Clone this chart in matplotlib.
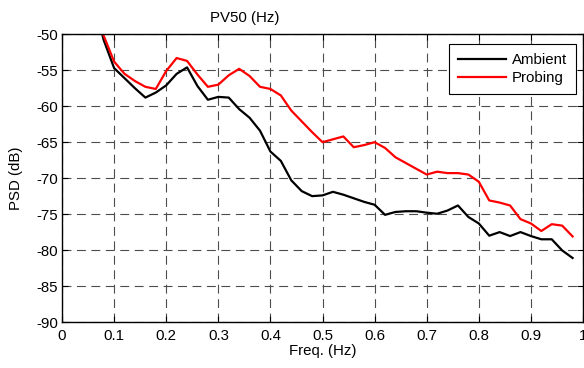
import matplotlib
matplotlib.use("Agg")
import matplotlib.pyplot as plt
import numpy as np

plt.rcParams['font.family'] = ['Liberation Sans', 'DejaVu Sans']
plt.rcParams['axes.unicode_minus'] = False

freq = [0.06, 0.08, 0.10, 0.12, 0.14, 0.16, 0.18, 0.20, 0.22, 0.24, 0.26, 0.28, 0.30,
        0.32, 0.34, 0.36, 0.38, 0.40, 0.42, 0.44, 0.46, 0.48, 0.50, 0.52, 0.54, 0.56,
        0.58, 0.60, 0.62, 0.64, 0.66, 0.68, 0.70, 0.72, 0.74, 0.76, 0.78, 0.80, 0.82,
        0.84, 0.86, 0.88, 0.90, 0.92, 0.94, 0.96, 0.98]

ambient = [-45.0, -50.8, -54.7, -56.1, -57.5, -58.8, -58.1, -57.1, -55.5, -54.6, -57.2,
           -59.1, -58.7, -58.8, -60.4, -61.6, -63.4, -66.3, -67.6, -70.3, -71.8, -72.5,
           -72.4, -71.9, -72.3, -72.8, -73.3, -73.7, -75.1, -74.7, -74.6, -74.6, -74.8,
           -74.95, -74.5, -73.8, -75.4, -76.3, -78.0, -77.5, -78.05, -77.5, -78.05,
           -78.5, -78.5, -80.05, -81.1]

probing = [-46.0, -50.2, -53.8, -55.5, -56.5, -57.3, -57.6, -55.1, -53.3, -53.7, -55.6,
           -57.3, -57.0, -55.7, -54.8, -55.8, -57.3, -57.6, -58.5, -60.6, -62.1, -63.6,
           -65.0, -64.6, -64.2, -65.7, -65.4, -65.0, -65.8, -67.1, -67.9, -68.7, -69.5,
           -69.1, -69.3, -69.3, -69.5, -70.5, -73.1, -73.4, -73.8, -75.7, -76.3, -77.35,
           -76.4, -76.6, -78.1]

xticks = [0, 0.1, 0.2, 0.3, 0.4, 0.5, 0.6, 0.7, 0.8, 0.9, 1]
xticklabels = ['0', '0.1', '0.2', '0.3', '0.4', '0.5', '0.6', '0.7', '0.8', '0.9', '1']
yticks = [-90, -85, -80, -75, -70, -65, -60, -55, -50]

FS = 10.8

fig = plt.figure(figsize=(5.84, 3.68), dpi=100)
ax = fig.add_axes([0.1062, 0.125, 0.8921, 0.7818])

ax.plot(freq, ambient, color='black', lw=1.6, label='Ambient')
ax.plot(freq, probing, color='#ff0000', lw=1.6, label='Probing')

ax.set_xlim(0, 1)
ax.set_ylim(-90, -50)
ax.set_xticks(xticks)
ax.set_xticklabels(xticklabels)
ax.set_yticks(yticks)

ax.grid(True, color='#4d4d4d', linestyle=(0, (8, 5)), linewidth=0.8)
ax.set_axisbelow(True)

ax.tick_params(direction='in', top=True, right=True, length=4, width=0.8,
               labelsize=FS)
ax.tick_params(axis='y', pad=3)
ax.tick_params(axis='x', pad=5)
for s in ax.spines.values():
    s.set_linewidth(1.0)

ax.set_xlabel('Freq. (Hz)', fontsize=FS, labelpad=1)
ax.set_ylabel('PSD (dB)', fontsize=FS, labelpad=9)
ax.text(0.351, 1.033, 'PV50 (Hz)', transform=ax.transAxes, ha='center',
        va='bottom', fontsize=FS)

leg = ax.legend(loc='upper right', fontsize=FS, fancybox=False, framealpha=1,
                edgecolor='black', borderpad=0.6, handlelength=3.2,
                handletextpad=0.4, labelspacing=0.3, borderaxespad=0,
                bbox_to_anchor=(0.9866, 0.9663))
leg.get_frame().set_linewidth(0.8)

fig.savefig('out.png', dpi=100)
